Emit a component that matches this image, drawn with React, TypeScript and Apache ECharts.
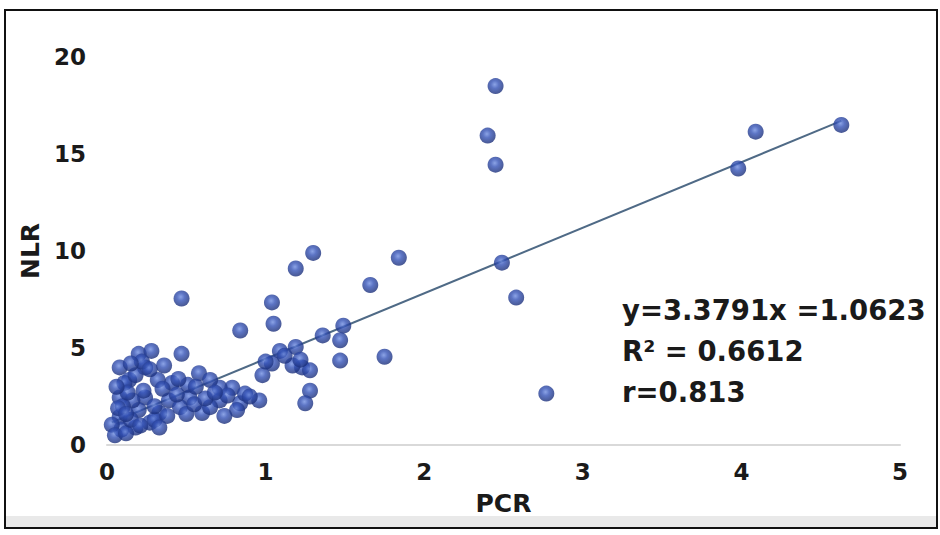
import React, { useEffect, useRef } from "react";
import * as echarts from "echarts";

const pcrValues: number[] = [
  2.45, 2.40, 2.45, 4.63, 4.09, 3.98, 2.49, 2.58, 2.77, 1.84,
  1.66, 1.30, 1.19, 1.75, 0.47, 0.84, 1.04, 1.05, 1.49, 1.36,
  1.47, 1.47, 1.19, 1.09, 1.23, 1.28, 1.17, 1.04, 0.98, 1.28,
  1.25, 0.96, 0.84, 0.79, 0.71, 0.71, 0.20, 0.28, 0.47, 0.08,
  0.24, 0.14, 0.41, 0.58, 0.65, 0.08, 0.24, 0.39, 0.52, 0.08,
  0.20, 0.33, 0.46, 0.60, 0.09, 0.18, 0.27, 0.65, 0.11, 0.23,
  0.30, 0.87, 0.82, 0.32, 0.03, 0.16, 0.51, 0.76,
  0.05, 0.12, 0.15, 0.10, 0.13, 0.18, 0.22, 0.06, 0.30, 0.35,
  0.38, 0.44, 0.50, 0.55, 0.62, 0.68, 0.56, 0.45, 0.27, 0.36,
  0.15, 0.07, 0.21, 0.33, 0.74, 0.90, 1.00, 1.12, 1.22, 0.12,
];
const nlrValues: number[] = [
  18.5, 15.95, 14.45, 16.5, 16.15, 14.25, 9.4, 7.6, 2.65, 9.65,
  8.25, 9.9, 9.1, 4.55, 7.55, 5.9, 7.35, 6.25, 6.15, 5.65,
  5.4, 4.35, 5.05, 4.85, 4.0, 3.85, 4.1, 4.2, 3.6, 2.8,
  2.15, 2.3, 2.15, 2.95, 2.95, 2.3, 4.7, 4.85, 4.7, 4.0,
  4.0, 3.35, 3.2, 3.7, 3.35, 2.45, 2.45, 2.3, 2.45, 1.45,
  1.8, 1.65, 1.95, 1.65, 0.8, 0.9, 1.15, 1.95, 3.2, 2.8,
  1.3, 2.65, 1.8, 3.35, 1.05, 2.3, 3.1, 2.55,
  0.5, 0.6, 1.3, 2.0, 2.7, 3.6, 4.3, 3.0, 2.0, 2.9,
  1.5, 2.6, 1.6, 2.1, 2.4, 2.7, 3.0, 3.4, 3.9, 4.1,
  4.2, 1.9, 1.0, 0.9, 1.5, 2.5, 4.3, 4.6, 4.4, 1.6,
];

const xTicks = { min: 0, max: 5, interval: 1 };
const yTicks = { min: 0, max: 20, interval: 5 };
const slope = 3.3791;
const intercept = 1.0623;
const statLines: string[] = ["y=3.3791x =1.0623", "R² = 0.6612", "r=0.813"];
const xName = "PCR";
const yName = "NLR";

export default function App() {
  const ref = useRef<HTMLDivElement>(null);
  useEffect(() => {
    if (!ref.current) return;
    const chart = echarts.init(ref.current, undefined, { renderer: "svg" });
    const points = pcrValues.map((x, i) => [x, nlrValues[i]]);
    const minX = Math.min(...pcrValues);
    const maxX = Math.max(...pcrValues);
    const trend = [
      [minX, slope * minX + intercept],
      [maxX, slope * maxX + intercept],
    ];
    const font = "DejaVu Sans";
    chart.setOption({
      animation: false,
      backgroundColor: "#ffffff",
      grid: { left: 107, right: 40, top: 57, bottom: 90 },
      xAxis: {
        type: "value",
        ...xTicks,
        name: xName,
        nameLocation: "middle",
        nameGap: 46,
        nameTextStyle: { fontFamily: font, fontWeight: "bold", fontSize: 25, color: "#1a1a1a" },
        axisLine: { show: true, lineStyle: { color: "#d9d9d9", width: 2 } },
        axisTick: { show: false },
        splitLine: { show: false },
        axisLabel: { fontFamily: font, fontWeight: "bold", fontSize: 23, color: "#1a1a1a", margin: 15 },
      },
      yAxis: {
        type: "value",
        ...yTicks,
        name: yName,
        nameLocation: "middle",
        nameGap: 56,
        nameTextStyle: { fontFamily: font, fontWeight: "bold", fontSize: 25, color: "#1a1a1a" },
        axisLine: { show: false },
        axisTick: { show: false },
        splitLine: { show: false },
        axisLabel: { fontFamily: font, fontWeight: "bold", fontSize: 23, color: "#1a1a1a", margin: 21 },
      },
      series: [
        {
          type: "line",
          data: trend,
          symbol: "none",
          z: 1,
          lineStyle: { color: "#4f6a86", width: 2 },
        },
        {
          type: "scatter",
          data: points,
          symbolSize: 16,
          z: 2,
          itemStyle: {
            color: {
              type: "radial",
              x: 0.45,
              y: 0.4,
              r: 0.6,
              colorStops: [
                { offset: 0, color: "#6f8de0" },
                { offset: 0.4, color: "#3452b6" },
                { offset: 1, color: "#1a2e78" },
              ],
            },
          },
        },
      ],
      graphic: [
        {
          type: "rect",
          shape: { x: 6, y: 516, width: 930, height: 11 },
          style: { fill: "#e9e9e9" },
          z: 0,
        },
        {
          type: "rect",
          shape: { x: 5, y: 10, width: 932, height: 518 },
          style: { fill: "none", stroke: "#111", lineWidth: 2 },
          z: 10,
        },
        ...statLines.map((t, i) => ({
          type: "text",
          x: 622,
          y: 310 + i * 41,
          style: {
            text: t,
            fontFamily: font,
            fontWeight: "bold",
            fontSize: 27.5,
            fill: "#1a1a1a",
            textVerticalAlign: "middle",
          },
          z: 10,
        })),
      ],
    });
    return () => chart.dispose();
  }, []);
  return (
    <div
      ref={ref}
      style={{ position: "fixed", left: 0, top: 0, width: 940, height: 535 }}
    />
  );
}
